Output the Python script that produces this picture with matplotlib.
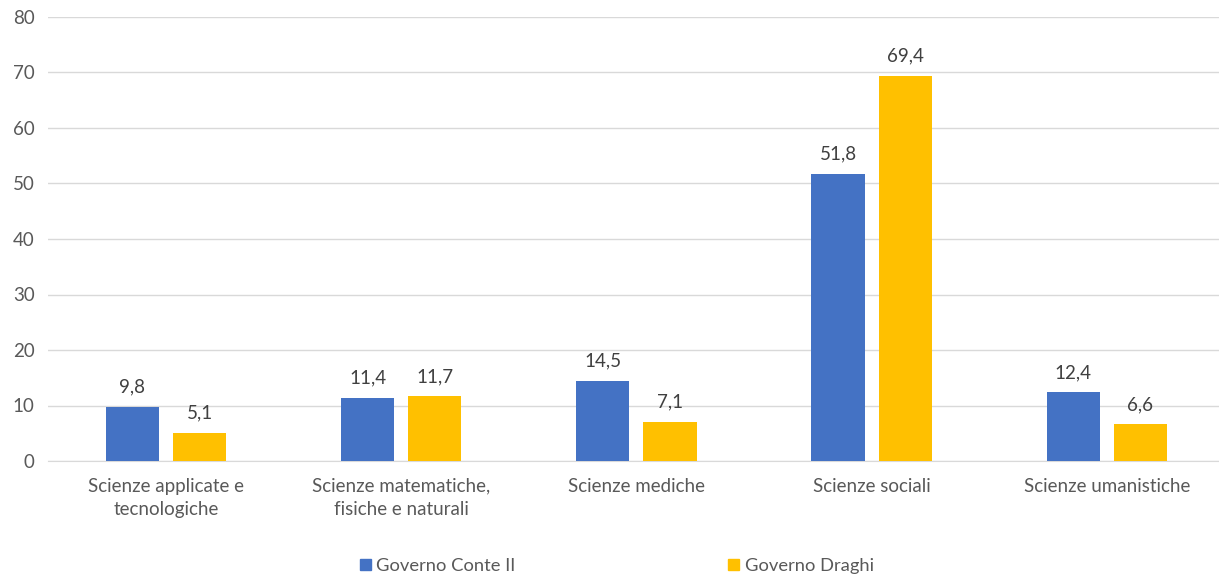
import numpy as np
import matplotlib.pyplot as plt
from matplotlib.patches import Patch

categories = ["Scienze applicate e\ntecnologiche", "Scienze matematiche,\nfisiche e naturali",
              "Scienze mediche", "Scienze sociali", "Scienze umanistiche"]
conte = [9.8, 11.4, 14.5, 51.8, 12.4]
draghi = [5.1, 11.7, 7.1, 69.4, 6.6]
series_names = ["Governo Conte II", "Governo Draghi"]

BLUE = "#4472C4"
YELLOW = "#FFC000"
TXT = "#595959"

plt.rcParams['font.family'] = ['Lato', 'DejaVu Sans']

fig = plt.figure(figsize=(12.19, 5.79), dpi=100)
ax = fig.add_axes([48.4 / 1219, 1 - 461 / 579, 1176 / 1219, 444 / 579])

x = np.arange(len(categories))
w = 0.226
off = 0.1426
b1 = ax.bar(x - off, conte, w, color=BLUE, zorder=3)
b2 = ax.bar(x + off, draghi, w, color=YELLOW, zorder=3)

for bars, vals in ((b1, conte), (b2, draghi)):
    for r, v in zip(bars, vals):
        ax.annotate(f"{v:.1f}".replace(".", ","), (r.get_x() + r.get_width() / 2, v),
                    xytext=(0, 8), textcoords="offset points", ha="center", va="bottom",
                    fontsize=13.5, color="#404040")

ax.set_xlim(-0.5, len(categories) - 0.5)
ax.set_ylim(0, 80)
ax.set_yticks(range(0, 81, 10))
ax.set_xticks(x)
ax.set_xticklabels(categories, linespacing=1.45)
ax.tick_params(axis="both", length=0, labelsize=13.5, colors=TXT)
ax.tick_params(axis="x", pad=12)
ax.tick_params(axis="y", pad=10)
ax.grid(axis="y", color="#D9D9D9", linewidth=1, zorder=0)
for s in ("top", "right", "left"):
    ax.spines[s].set_visible(False)
ax.spines["bottom"].set_color("#D9D9D9")

handles = [Patch(color=BLUE), Patch(color=YELLOW)]
fig.legend(handles, series_names, loc="center", bbox_to_anchor=(0.506, 1 - 566 / 579),
           ncol=2, frameon=False, fontsize=13.2, handlelength=0.6, handleheight=0.6,
           handletextpad=0.3, columnspacing=11.6, labelcolor=TXT)

fig.savefig("out.png", dpi=100)
